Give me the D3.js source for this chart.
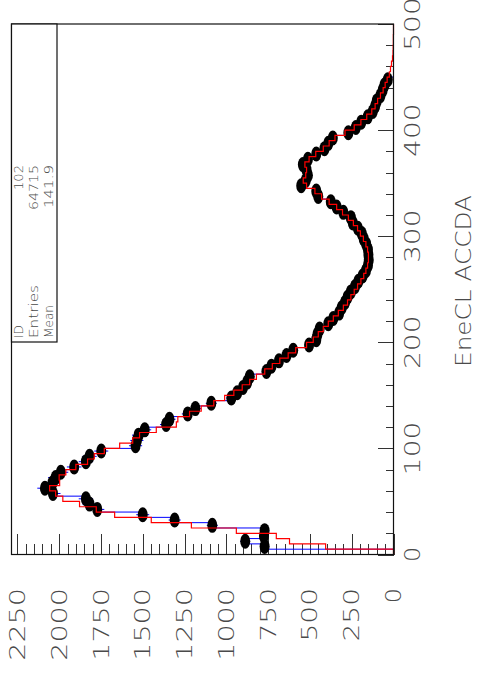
<!DOCTYPE html>
<html>
<head>
<meta charset="utf-8">
<script src="https://cdn.jsdelivr.net/npm/d3@7"></script>
<style>
  html, body { margin: 0; padding: 0; background: #fff; }
  svg { display: block; }
  text { font-family: "DejaVu Sans Light", "Roboto Light", "Lato Light", Roboto, "Liberation Sans", sans-serif; font-weight: 300; fill: #4a4a4a; }
</style>
</head>
<body>
<svg id="chart" width="477" height="676"></svg>
<script>
// EneCL ACCDA spectrum: 100 bins of width 5 between 0 and 500
const accdaRange = [0, 500];
const binWidth = 5;

// Measured counts per bin (drawn as markers and blue histogram)
const dataCounts = [
  0, 771, 887, 775, 771, 1084, 1309, 1500, 1772, 1818,
  1840, 2037, 2085, 2040, 2021, 1990, 1910, 1840, 1818, 1748,
  1543, 1535, 1525, 1488, 1360, 1340, 1231, 1185, 1090, 970,
  935, 900, 875, 860, 760, 730, 685, 640, 600, 505,
  462, 455, 442, 390, 360, 325, 310, 290, 275, 255,
  230, 210, 185, 165, 153, 148, 150, 153, 163, 178,
  190, 213, 243, 255, 300, 340, 375, 450, 462, 552,
  525, 512, 520, 542, 512, 462, 413, 390, 363, 270,
  225, 193, 154, 124, 110, 100, 78, 65, 54, 34,
  0, 0, 0, 0, 0, 0, 0, 0, 0, 0
];

// Reference (simulated) counts per bin, red histogram
const refCounts = [
  0, 406, 622, 701, 940, 1209, 1449, 1668, 1778, 1878,
  1978, 2021, 2057, 1997, 2000, 1960, 1900, 1830, 1790, 1730,
  1638, 1560, 1519, 1419, 1299, 1290, 1220, 1150, 1075, 1010,
  955, 905, 860, 820, 770, 725, 680, 630, 585, 520,
  480, 450, 420, 390, 360, 330, 300, 275, 255, 235,
  215, 195, 178, 165, 155, 150, 150, 155, 165, 180,
  198, 215, 240, 270, 305, 340, 385, 430, 470, 520,
  540, 525, 520, 530, 505, 465, 420, 385, 350, 290,
  235, 195, 160, 130, 110, 95, 78, 62, 50, 38,
  25, 18, 12, 6, 3, 2, 1, 1, 0, 0
];

// Axis ticks
const countTicks = [0, 250, 500, 750, 1000, 1250, 1500, 1750, 2000, 2250];
const countMax = 2285;
const accdaTicks = [0, 100, 200, 300, 400, 500];

// Statistics box
const statLabels = ["ID", "Entries", "Mean"];
const statValues = ["102", "64715", "141.9"];
const axisTitle = "EneCL ACCDA";

const svg = d3.select("#chart");

// Frame geometry (plot is drawn rotated: ACCDA runs upward, counts run leftward)
const frame = { left: 11.5, right: 393.5, top: 24, bottom: 554.5 };

const yAcc = d3.scaleLinear().domain(accdaRange).range([frame.bottom, frame.top]);
const xCnt = d3.scaleLinear().domain([0, countMax]).range([frame.right, frame.left]);

const binLow = i => accdaRange[0] + i * binWidth;

// white frame background
svg.append("rect")
  .attr("x", frame.left).attr("y", frame.top)
  .attr("width", frame.right - frame.left).attr("height", frame.bottom - frame.top)
  .attr("fill", "#fff");

// ---- count axis ticks along the bottom edge (pointing into the frame)
const minorCount = d3.range(0, countMax, 50).filter(v => v % 250 !== 0);
const countAxisG = svg.append("g").attr("transform", `translate(0,${frame.bottom})`);
countAxisG.call(d3.axisBottom(xCnt).tickValues(countTicks).tickSize(-21).tickFormat(""));
countAxisG.call(g => g.select(".domain").remove());
const countMinorG = svg.append("g").attr("transform", `translate(0,${frame.bottom})`);
countMinorG.call(d3.axisBottom(xCnt).tickValues(minorCount).tickSize(-11).tickFormat(""));
countMinorG.call(g => g.select(".domain").remove());

// ---- ACCDA axis ticks along the right edge (pointing into the frame)
const minorAcc = d3.range(0, 500, 20).filter(v => v % 100 !== 0);
const accAxisG = svg.append("g").attr("transform", `translate(${frame.right},0)`);
accAxisG.call(d3.axisRight(yAcc).tickValues(accdaTicks).tickSize(-16).tickFormat(""));
accAxisG.call(g => g.select(".domain").remove());
const accMinorG = svg.append("g").attr("transform", `translate(${frame.right},0)`);
accMinorG.call(d3.axisRight(yAcc).tickValues(minorAcc).tickSize(-8).tickFormat(""));
accMinorG.call(g => g.select(".domain").remove());

svg.selectAll(".tick line").attr("stroke", "#333").attr("stroke-width", 1)
  .attr("shape-rendering", "crispEdges");

// ---- step histograms
function stepPoints(counts) {
  const pts = [[xCnt(0), yAcc(accdaRange[0])]];
  counts.forEach((c, i) => {
    pts.push([xCnt(c), yAcc(binLow(i))]);
    pts.push([xCnt(c), yAcc(binLow(i) + binWidth)]);
  });
  pts.push([xCnt(0), yAcc(accdaRange[1])]);
  return pts;
}
const line = d3.line();

const plot = svg.append("g");

plot.append("path")
  .attr("d", line(stepPoints(dataCounts)))
  .attr("fill", "none").attr("stroke", "#0000ff").attr("stroke-width", 1);

const filled = dataCounts.map((c, i) => ({ c, mid: binLow(i) + binWidth / 2 })).filter(d => d.c > 0);

// statistical error bars
plot.selectAll("line.err").data(filled).join("line")
  .attr("class", "err")
  .attr("x1", d => xCnt(d.c - Math.sqrt(d.c)))
  .attr("x2", d => xCnt(d.c + Math.sqrt(d.c)))
  .attr("y1", d => yAcc(d.mid)).attr("y2", d => yAcc(d.mid))
  .attr("stroke", "#0000ff").attr("stroke-width", 1);

// markers
plot.selectAll("ellipse.pt").data(filled).join("ellipse")
  .attr("class", "pt")
  .attr("cx", d => xCnt(d.c)).attr("cy", d => yAcc(d.mid))
  .attr("rx", 5).attr("ry", 7.5)
  .attr("fill", "#000");

plot.append("path")
  .attr("d", line(stepPoints(refCounts)))
  .attr("fill", "none").attr("stroke", "#ff0000").attr("stroke-width", 1.2);

// ---- frame
svg.append("rect")
  .attr("x", frame.left).attr("y", frame.top)
  .attr("width", frame.right - frame.left).attr("height", frame.bottom - frame.top)
  .attr("fill", "none").attr("stroke", "#111").attr("stroke-width", 1.2);

// ---- tick labels (rotated, reading upward)
const labelSize = 21;
const charAdvance = 19.2;
svg.append("g").selectAll("text").data(countTicks).join("text")
  .attr("transform", v => `translate(${xCnt(v)},588) rotate(-90)`)
  .attr("text-anchor", "end")
  .attr("dy", "0.36em")
  .attr("font-size", labelSize)
  .attr("textLength", v => String(v).length * charAdvance - 4)
  .attr("lengthAdjust", "spacingAndGlyphs")
  .text(v => v);

svg.append("g").selectAll("text").data(accdaTicks).join("text")
  .attr("transform", v => `translate(412.5,${yAcc(v)}) rotate(-90)`)
  .attr("text-anchor", "middle")
  .attr("dy", "0.36em")
  .attr("font-size", labelSize)
  .attr("textLength", v => String(v).length * charAdvance - 4)
  .attr("lengthAdjust", "spacingAndGlyphs")
  .text(v => v);

svg.append("text")
  .attr("transform", `translate(463,281) rotate(-90)`)
  .attr("text-anchor", "middle")
  .attr("dy", "0.36em")
  .attr("font-size", labelSize)
  .attr("textLength", 172)
  .attr("lengthAdjust", "spacingAndGlyphs")
  .text(axisTitle);

// ---- statistics box
const box = { left: 11.5, right: 57, top: 24, bottom: 342 };
svg.append("rect")
  .attr("x", box.left).attr("y", box.top)
  .attr("width", box.right - box.left).attr("height", box.bottom - box.top)
  .attr("fill", "#fff").attr("stroke", "#111").attr("stroke-width", 1.2);

const statRowX = [19, 34, 49];
const statLabelLen = [13, 53, 33];
const statValueLen = [25, 45, 43];
svg.append("g").selectAll("text").data(statLabels).join("text")
  .attr("transform", (d, i) => `translate(${statRowX[i]},338) rotate(-90)`)
  .attr("text-anchor", "start")
  .attr("dy", "0.36em")
  .attr("font-size", 11.5)
  .attr("textLength", (d, i) => statLabelLen[i])
  .attr("lengthAdjust", "spacingAndGlyphs")
  .text(d => d);
svg.append("g").selectAll("text").data(statValues).join("text")
  .attr("transform", (d, i) => `translate(${statRowX[i]},165) rotate(-90)`)
  .attr("text-anchor", "end")
  .attr("dy", "0.36em")
  .attr("font-size", 11.5)
  .attr("textLength", (d, i) => statValueLen[i])
  .attr("lengthAdjust", "spacingAndGlyphs")
  .text(d => d);
</script>
</body>
</html>
